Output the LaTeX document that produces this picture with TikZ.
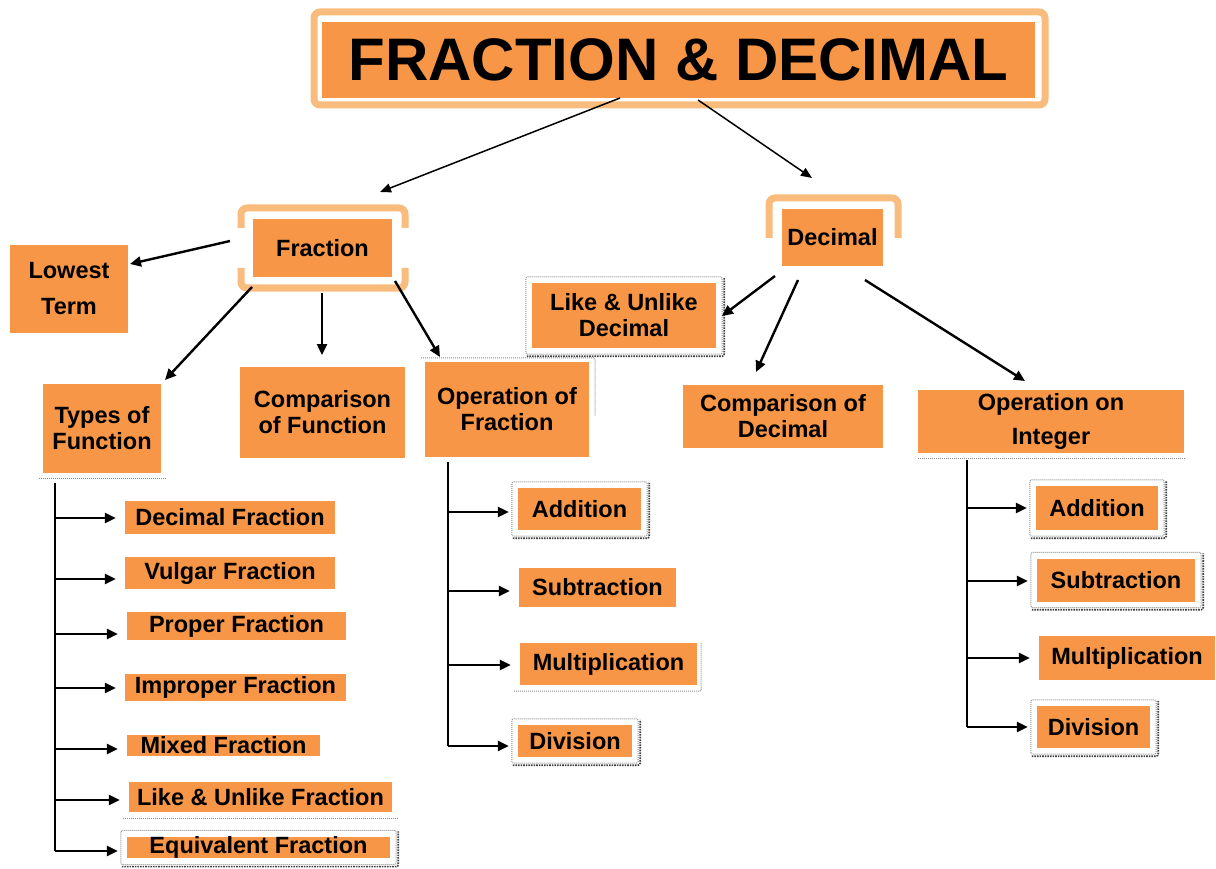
\documentclass[tikz,border=0pt]{standalone}
\usepackage{fontspec}
\setmainfont{Liberation Sans}
\usetikzlibrary{calc,arrows.meta}
\definecolor{boxor}{RGB}{247,150,70}
\definecolor{halo}{RGB}{250,188,125}
\newcommand\nodefont{\fontsize{23.5}{26}\selectfont\bfseries}
\newcommand\titlefont{\fontsize{60}{60}\selectfont\bfseries}
\newcommand\shadowframe[1]{%
  \draw[frm] ($(#1.north west)+(-6,-6)$) rectangle ($(#1.south east)+(6,6)$);
  \draw[frmdark] ($(#1.south west)+(-5,8)$) -- ($(#1.south east)+(8,8)$) -- ($(#1.north east)+(8,-5)$);}
\begin{document}
\begin{tikzpicture}[x=1pt,y=-1pt,
 box/.style={fill=boxor, inner sep=0pt, align=center, font=\nodefont},
 arr/.style={line width=2.4pt, -{Triangle[length=11pt,width=10pt]}},
 thinarr/.style={line width=1.5pt, -{Triangle[length=11pt,width=9pt]}},
 ln/.style={line width=2.4pt},
 frm/.style={draw=black!45, densely dotted, line width=1pt, rounded corners=2pt},
 frmdark/.style={draw=black!75, densely dotted, line width=1.6pt, rounded corners=2pt},
 halostyle/.style={draw=halo, line width=7pt, rounded corners=6pt}]
\useasboundingbox (0,0) rectangle (1216,869);

% halos
\draw[halostyle] (314,12) rectangle (1045,105);
\draw[halostyle] (241,228) -- (241,208) -- (405,208) -- (405,228);
\draw[halostyle] (241,268) -- (241,288) -- (405,288) -- (405,268);
\draw[halostyle] (769,238) -- (769,198) -- (898,198) -- (898,238);

% main nodes
\node[box, font=\titlefont, minimum width=713, minimum height=76] (title) at (678.5,60) {FRACTION \& DECIMAL};
\node[box, minimum width=139, minimum height=58] (frac) at (322.5,248) {Fraction};
\node[box, minimum width=101, minimum height=57] (dec) at (832.5,237.5) {Decimal};
\node[box, minimum width=118, minimum height=88] (lowest) at (69,289) {Lowest\\[10pt]Term};
\node[box, minimum width=118, minimum height=89] (types) at (102,428.5) {Types of\\Function};
\node[box, minimum width=165, minimum height=91] (compF) at (322.5,412.5) {Comparison\\of Function};
\node[box, minimum width=164, minimum height=95] (opF) at (507,409.5) {Operation of\\Fraction};
\node[box, minimum width=184, minimum height=65] (likeD) at (624,315.5) {Like \& Unlike\\Decimal};
\node[box, minimum width=200, minimum height=63] (compD) at (783,416.5) {Comparison of\\Decimal};
\node[box, minimum width=266, minimum height=63] (opI) at (1051,421.5) {Operation on\\[8pt]Integer};

% left list
\node[box, minimum width=210, minimum height=33] (dF) at (230,517.5) {Decimal Fraction};
\node[box, minimum width=210, minimum height=32] (vF) at (230,573) {Vulgar Fraction};
\node[box, minimum width=219, minimum height=28] (pF) at (236.5,626) {Proper Fraction};
\node[box, minimum width=221, minimum height=27] (iF) at (235.5,687.5) {Improper Fraction};
\node[box, minimum width=193, minimum height=21] (mF) at (223.5,745.5) {Mixed Fraction};
\node[box, minimum width=263, minimum height=30] (lF) at (260.5,797) {Like \& Unlike Fraction};
\node[box, minimum width=263, minimum height=21] (eF) at (258.5,847.5) {Equivalent Fraction};

% middle list
\node[box, minimum width=123, minimum height=42] (aM) at (579.5,509) {Addition};
\node[box, minimum width=157, minimum height=39] (sM) at (597.5,587.5) {Subtraction};
\node[box, minimum width=177, minimum height=42] (mM) at (608.5,664) {Multiplication};
\node[box, minimum width=114, minimum height=32] (dM) at (575,741) {Division};

% right list
\node[box, minimum width=122, minimum height=44] (aR) at (1097,508) {Addition};
\node[box, minimum width=158, minimum height=43] (sR) at (1116,580) {Subtraction};
\node[box, minimum width=176, minimum height=44] (mR) at (1127,658) {Multiplication};
\node[box, minimum width=113, minimum height=42] (dR) at (1093.5,727) {Division};

% shadow frames
\shadowframe{likeD}
\shadowframe{eF}
\shadowframe{aM}
\shadowframe{dM}
\shadowframe{aR}
\shadowframe{sR}
\shadowframe{dR}
\draw[frm] ($(types.south west)+(-4,5)$) -- ($(types.south east)+(4,5)$);
\draw[frm] ($(opI.south west)+(0,5)$) -- ($(opI.south east)+(0,5)$);
\draw[frm] ($(lF.south west)+(-6,6)$) -- ($(lF.south east)+(6,6)$);
\draw[frm] ($(mM.south west)+(-6,6)$) -- ($(mM.south east)+(4,6)$) -- ($(mM.north east)+(4,0)$);
\draw[frm] ($(opF.north west)+(-4,-4)$) -- ($(opF.north east)+(6,-4)$) -- ($(opF.east)+(6,6)$);

% connector end points
\coordinate (t1) at (620,98);   \coordinate (t1e) at (380,192);
\coordinate (t2) at (698,100);  \coordinate (t2e) at (812,178);
\coordinate (f1) at (230,241);  \coordinate (f1e) at (130,264);
\coordinate (f2) at (252,287);  \coordinate (f2e) at (165,380);
\coordinate (f3) at (322,293);  \coordinate (f3e) at (322,355);
\coordinate (f4) at (395,281);  \coordinate (f4e) at (440,357);
\coordinate (d1) at (775,276);  \coordinate (d1e) at (722,316);
\coordinate (d2) at (798,280);  \coordinate (d2e) at (756,372);
\coordinate (d3) at (865,280);  \coordinate (d3e) at (1025,381);

\draw[thinarr] (t1) -- (t1e);
\draw[thinarr] (t2) -- (t2e);
\draw[arr] (f1) -- (f1e);
\draw[arr] (f2) -- (f2e);
\draw[arr] (f3) -- (f3e);
\draw[arr] (f4) -- (f4e);
\draw[arr] (d1) -- (d1e);
\draw[arr] (d2) -- (d2e);
\draw[arr] (d3) -- (d3e);

% left tree
\coordinate (Ltop) at (55,483);
\coordinate (Lbot) at (55,851);
\draw[ln] (Ltop) -- (Lbot);
\foreach \n/\y in {dF/518, vF/579, pF/634, iF/688, mF/749, lF/800, eF/851}{
  \draw[arr] (55,\y) -- ($(\n.west |- 0,\y)+(-9,0)$);
}

% middle tree
\coordinate (Mtop) at (448,462);
\coordinate (Mbot) at (448,746);
\draw[ln] (Mtop) -- (Mbot);
\foreach \n/\y in {aM/512, sM/591, mM/665, dM/746}{
  \draw[arr] (448,\y) -- ($(\n.west |- 0,\y)+(-9,0)$);
}

% right tree
\coordinate (Rtop) at (967,460);
\coordinate (Rbot) at (967,727);
\draw[ln] (Rtop) -- (Rbot);
\foreach \n/\y in {aR/508, sR/581, mR/658, dR/727}{
  \draw[arr] (967,\y) -- ($(\n.west |- 0,\y)+(-9,0)$);
}
\end{tikzpicture}
\end{document}
